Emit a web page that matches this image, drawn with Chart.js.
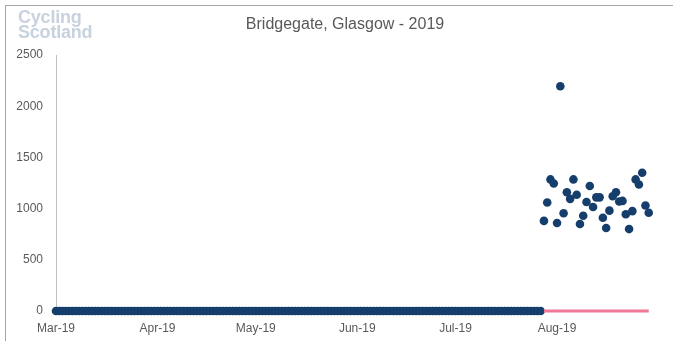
<html>
    <head>
        <title>Bridgegate, Glasgow - 2019</title>
        <script src="https://cdn.jsdelivr.net/npm/chart.js@4.4.1/dist/chart.umd.min.js"></script>
        <style>
            body { margin: 0; overflow: hidden; background: #fff; width: 673px; height: 341px; position: relative; }
            #frame { position: absolute; left: 5px; top: 5px; width: 800px; height: 500px; border: 1px solid #a6a6a6; }
            #logo { position: absolute; left: 18px; top: 10px; font: bold 18px "Liberation Sans", Arial, sans-serif; line-height: 15px; color: #c7d2de; letter-spacing: -0.2px; }
            #title { position: absolute; left: 0; width: 690px; top: 15px; text-align: center; font: 16px "Liberation Sans", Arial, sans-serif; color: #595959; }
            canvas { position: absolute; left: 0; top: 0; }
        </style>
    </head>
    <body>
        <div id="frame"></div>
        <canvas id="myChart" width="673" height="341"></canvas>
        <div id="logo">Cycling<br>Scotland</div>
        <div id="title">Bridgegate, Glasgow - 2019</div>

        <script>
            // days counted from 1 Mar 2019
            var monthTicks = [0, 31, 61, 92, 122, 153];
            var monthLabels = ["Mar-19", "Apr-19", "May-19", "Jun-19", "Jul-19", "Aug-19"];
            var yTicks = [0, 500, 1000, 1500, 2000, 2500];

            // 1 Mar - 27 Jul: counter reads zero
            var zeroCounts = [
                0,0,0,0,0,0,0,0,0,0,0,0,0,0,0,0,0,0,0,0,0,0,0,0,0,0,0,0,0,0,0,   // Mar
                0,0,0,0,0,0,0,0,0,0,0,0,0,0,0,0,0,0,0,0,0,0,0,0,0,0,0,0,0,0,     // Apr
                0,0,0,0,0,0,0,0,0,0,0,0,0,0,0,0,0,0,0,0,0,0,0,0,0,0,0,0,0,0,0,   // May
                0,0,0,0,0,0,0,0,0,0,0,0,0,0,0,0,0,0,0,0,0,0,0,0,0,0,0,0,0,0,     // Jun
                0,0,0,0,0,0,0,0,0,0,0,0,0,0,0,0,0,0,0,0,0,0,0,0,0,0,0            // Jul 1-27
            ];
            // 28 Jul - 29 Aug
            var dailyCounts = [880, 1060, 1285, 1245, 860, 2195, 955, 1160, 1095, 1285, 1135,
                               850, 930, 1065, 1220, 1015, 1110, 1110, 910, 810, 980, 1120,
                               1160, 1070, 1075, 945, 800, 975, 1285, 1235, 1350, 1030, 960];
            var otherCounts = [0,0,0,0,0,0,0,0,0,0,0,0,0,0,0,0,0,0,0,0,0,0,0,0,0,0,0,0,0,0,0,0,0];
            var firstCountDay = zeroCounts.length;

            var navy = '#163e6c';
            var pink = '#ee7896';
            var grey = '#595959';

            var dotPoints = [];
            for (var i = 0; i < zeroCounts.length; i++) dotPoints.push({x: i, y: zeroCounts[i]});
            for (var j = 0; j < dailyCounts.length; j++) dotPoints.push({x: firstCountDay + j, y: dailyCounts[j]});
            var pinkPoints = [];
            for (var k = 0; k < otherCounts.length; k++) pinkPoints.push({x: firstCountDay + k, y: otherCounts[k]});

            var tickFont = {family: '"Liberation Sans", Arial, sans-serif', size: 12};

            var ctx = document.getElementById('myChart').getContext('2d');
            var chart = new Chart(ctx, {
                type: 'scatter',
                data: {
                    datasets: [{
                        label: 'Counts',
                        data: dotPoints,
                        backgroundColor: navy,
                        borderColor: navy,
                        pointRadius: 4.3,
                        borderWidth: 0,
                        clip: false,
                        order: 2
                    }, {
                        label: 'Other',
                        type: 'line',
                        data: pinkPoints,
                        borderColor: pink,
                        borderWidth: 3,
                        pointRadius: 0,
                        clip: false,
                        order: 1
                    }]
                },
                options: {
                    responsive: false,
                    animation: false,
                    layout: { padding: {left: 0, right: 21, top: 55, bottom: 0} },
                    plugins: { legend: {display: false}, tooltip: {enabled: false} },
                    scales: {
                        x: {
                            type: 'linear',
                            min: 0,
                            max: 182,
                            grid: {display: false, drawTicks: false},
                            border: {display: false},
                            afterBuildTicks: function(axis) {
                                axis.ticks = monthTicks.map(function(v) { return {value: v}; });
                            },
                            afterFit: function(axis) { axis.height = 30; },
                            ticks: {
                                padding: 10,
                                color: grey,
                                font: tickFont,
                                maxRotation: 0,
                                autoSkip: false,
                                callback: function(v) { return monthLabels[monthTicks.indexOf(v)]; }
                            }
                        },
                        y: {
                            min: 0,
                            max: 2500,
                            grid: {display: false, drawTicks: false},
                            border: {display: true, color: '#bfbfbf', width: 1},
                            afterBuildTicks: function(axis) {
                                axis.ticks = yTicks.map(function(v) { return {value: v}; });
                            },
                            afterFit: function(axis) { axis.width = 56; },
                            ticks: {
                                padding: 13,
                                color: grey,
                                font: tickFont,
                                callback: function(v) { return String(v); }
                            }
                        }
                    }
                }
            });
        </script>
    </body>
</html>
